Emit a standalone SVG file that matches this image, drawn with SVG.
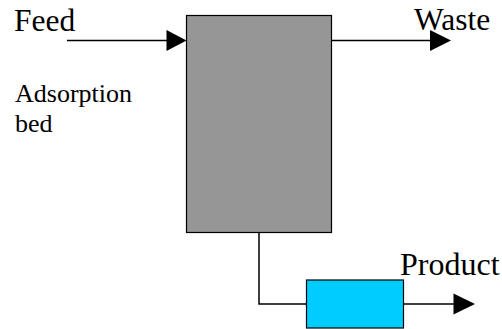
<svg xmlns="http://www.w3.org/2000/svg" width="502" height="329" viewBox="0 0 502 329">
<style>
.ln{stroke:#000;stroke-width:1.5;fill:none}
.head{fill:#000}
</style>
<rect width="502" height="329" fill="#fff"/>
<g id="connectors">
<line class="ln" x1="67" y1="40.5" x2="168" y2="40.5"/>
<polygon class="head" points="166.5,30 186.5,40.5 166.5,51"/>
<line class="ln" x1="331.5" y1="40.5" x2="432" y2="40.5"/>
<polygon class="head" points="430,30 451,40.5 430,51"/>
<polyline class="ln" points="259,232 259,304 307,304"/>
<line class="ln" x1="403" y1="304" x2="455" y2="304"/>
<polygon class="head" points="453.5,293.5 475,304 453.5,314.5"/>
</g>
<g id="bed">
<rect x="186.5" y="15.5" width="145" height="217" fill="#969696" stroke="#000" stroke-width="1.2"/>
</g>
<g id="product-unit">
<rect x="306.5" y="280" width="97" height="48" fill="#00CCFF" stroke="#000" stroke-width="1.2"/>
</g>
<g id="labels" font-family="'Liberation Serif', 'Times New Roman', serif" fill="#000">
<text font-size="31.5" x="14" y="31">Feed</text>
<text font-size="31.5" x="414" y="30">Waste</text>
<text font-size="32" x="400" y="275">Product</text>
<text font-size="26" x="15" y="101.5">Adsorption</text>
<text font-size="26" x="15" y="131.5">bed</text>
</g>
</svg>
